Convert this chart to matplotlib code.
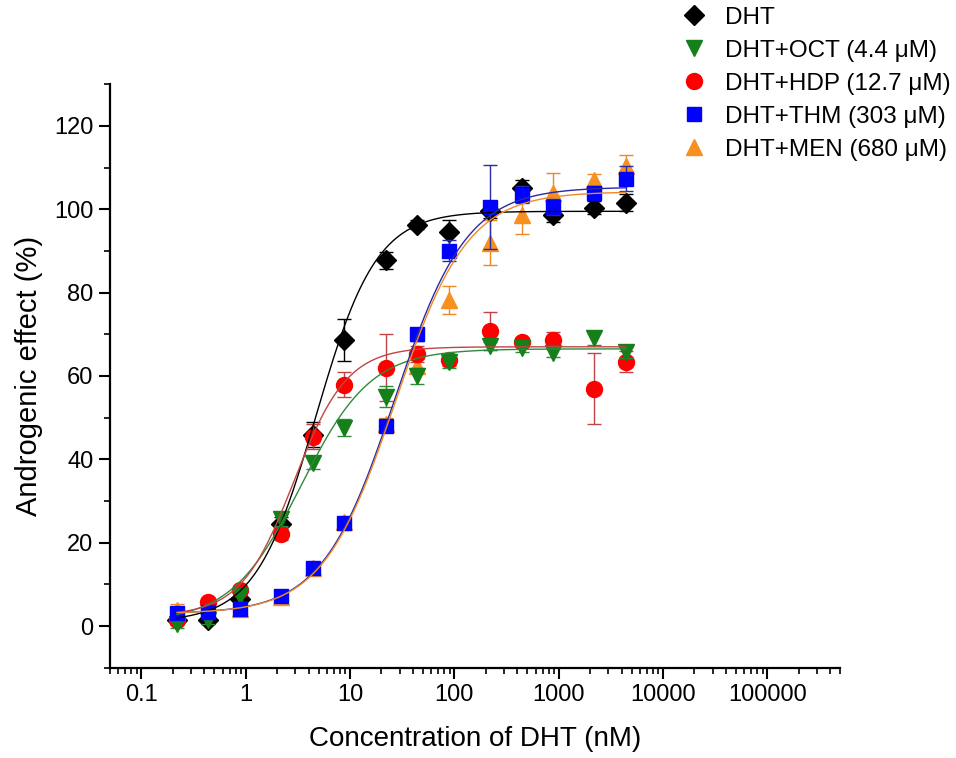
import numpy as np
import matplotlib
matplotlib.use('Agg')
import matplotlib.pyplot as plt
from matplotlib.ticker import LogLocator, MultipleLocator, FixedLocator, FixedFormatter

plt.rcParams['font.family'] = ['Liberation Sans', 'DejaVu Sans']

# DHT concentrations (nM)
conc = [0.22, 0.44, 0.88, 2.2, 4.4, 8.8, 22, 44, 88, 220, 440, 880, 2200, 4400]

labels = ['DHT', 'DHT+OCT (4.4 \u03bcM)', 'DHT+HDP (12.7 \u03bcM)',
          'DHT+THM (303 \u03bcM)', 'DHT+MEN (680 \u03bcM)']

# androgenic effect (%) and SEM per series
dht = [1.5, 1.5, 6.5, 24.6, 45.9, 68.6, 87.7, 96.3, 94.5, 99.5, 105.0, 98.5, 100.4, 101.6]
dht_err = [1, 1, 1.5, 1.5, 3, 5, 2, 1, 3, 1.5, 2, 1.5, 1.5, 2]
oct_ = [0.5, 1.5, 7.2, 25.6, 39.2, 47.6, 55.0, 60.0, 63.4, 67.2, 66.7, 65.5, 69.0, 65.7]
oct_err = [1, 1, 1.5, 1.5, 1.5, 2, 2.5, 2, 1.5, 1, 1, 1, 1.5, 1.5]
hdp = [1.5, 5.7, 8.6, 22.2, 45.4, 57.9, 62.0, 65.3, 63.8, 70.8, 68.2, 68.6, 56.9, 63.4]
hdp_err = [1, 1, 1, 1.5, 3, 3, 8, 2, 1.5, 4.5, 1, 2, 8.5, 2.5]
thm = [3.1, 3.3, 4.0, 7.2, 14.0, 24.8, 48.0, 70.0, 90.0, 100.5, 103.5, 100.5, 104.0, 107.3]
thm_err = [1, 1, 1, 1, 1, 1, 1.5, 1.5, 2.5, 10, 2, 2, 1.5, 3]
men = [3.8, 3.3, 4.2, 7.0, 14.0, 25.0, 48.5, 62.5, 78.2, 92.0, 98.5, 103.8, 106.9, 110.4]
men_err = [1.5, 1, 1.5, 1, 1, 1, 1.5, 1.5, 3.3, 5.5, 4.5, 5, 1.5, 2.5]

# fitted 4PL parameters: bottom, top, EC50, hill
fits = [(1.0, 99.5, 4.7, 1.5),
        (1.0, 66.5, 3.4, 1.3),
        (2.5, 67.0, 2.9, 1.7),
        (3.0, 105.3, 26.6, 1.25),
        (3.0, 104.2, 27.0, 1.25)]

values = [dht, oct_, hdp, thm, men]
errors = [dht_err, oct_err, hdp_err, thm_err, men_err]
markers = ['D', 'v', 'o', 's', '^']
msizes = [10.5, 12, 11.5, 9.5, 12]
face = ['black', '#15801a', '#ff0000', '#0000ff', '#f7901e']
line_col = ['black', '#2f8a3a', '#c04545', '#2a2aa5', '#ee8a25']
zorders = [3, 5, 4, 6, 2]

fig = plt.figure(figsize=(9.56, 7.58), dpi=100)
ax = fig.add_axes([0.115, 0.119, 0.764, 0.770])

xs = np.logspace(np.log10(conc[0]), np.log10(conc[-1]), 300)
handles = []
for i in range(5):
    bot, top, ec50, hill = fits[i]
    ax.errorbar(conc, values[i], yerr=errors[i], fmt='none', ecolor=line_col[i],
                elinewidth=1, capsize=5, capthick=1, zorder=zorders[i])
    h, = ax.plot(conc, values[i], linestyle='none', marker=markers[i],
                 ms=msizes[i], mfc=face[i], mec=face[i], zorder=zorders[i] + 0.5)
    handles.append(h)
    ax.plot(xs, bot + (top - bot) / (1 + (ec50 / xs) ** hill),
            color=line_col[i], lw=1, zorder=10)

ax.set_xscale('log')
ax.set_xlim(0.05, 5e5)
ax.set_ylim(-10, 130)

ax.xaxis.set_major_locator(FixedLocator([0.1, 1, 10, 100, 1000, 10000, 100000]))
ax.xaxis.set_major_formatter(FixedFormatter(['0.1', '1', '10', '100', '1000', '10000', '100000']))
ax.xaxis.set_minor_locator(LogLocator(base=10, subs=np.arange(2, 10), numticks=20))
ax.xaxis.set_minor_formatter(FixedFormatter([]))
ax.yaxis.set_major_locator(FixedLocator([0, 20, 40, 60, 80, 100, 120]))
ax.yaxis.set_minor_locator(MultipleLocator(10))

for s in ['top', 'right']:
    ax.spines[s].set_visible(False)
for s in ['left', 'bottom']:
    ax.spines[s].set_linewidth(1.6)

ax.tick_params(which='major', direction='out', length=8, width=1.5, labelsize=17, pad=4)
ax.tick_params(which='minor', direction='out', length=4, width=1.2)

ax.set_xlabel('Concentration of DHT (nM)', fontsize=20, labelpad=14)
ax.set_ylabel('Androgenic effect (%)', fontsize=21, labelpad=8)

fig.legend(handles, labels, loc='upper left', bbox_to_anchor=(0.69, 1.02),
           frameon=False, fontsize=17.5, handlelength=1.0, handletextpad=0.8,
           labelspacing=0.45)

fig.savefig('out.png', dpi=100)
